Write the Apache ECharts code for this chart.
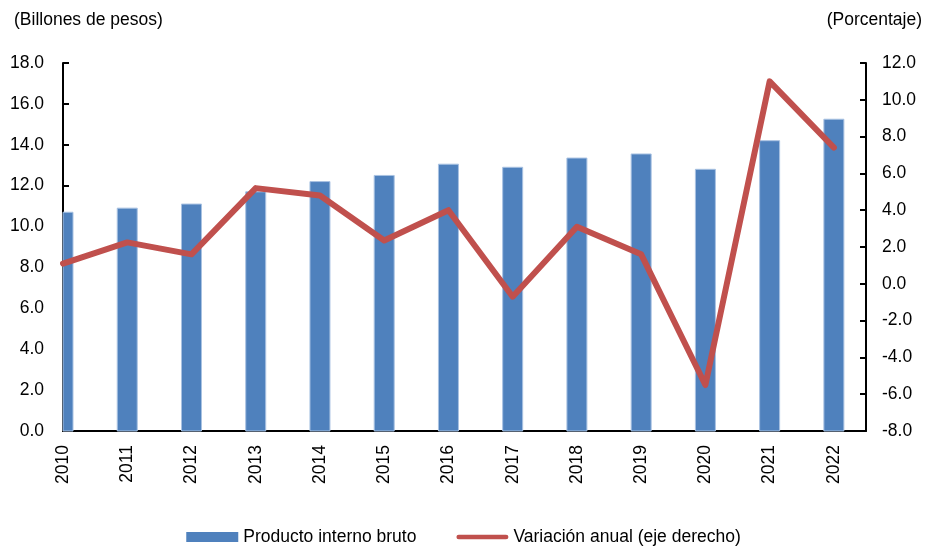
<!DOCTYPE html>
<html>
<head>
<meta charset="utf-8">
<script src="https://cdn.jsdelivr.net/npm/echarts@6/dist/echarts.min.js"></script>
<style>
  html, body { margin: 0; padding: 0; background: #fff; }
  #main { width: 927px; height: 549px; }
</style>
</head>
<body>
<div id="main"></div>
<script>
// datos
var years = ['2010', '2011', '2012', '2013', '2014', '2015', '2016', '2017', '2018', '2019', '2020', '2021', '2022'];
var pib = [10.7, 10.9, 11.1, 11.7, 12.2, 12.5, 13.05, 12.9, 13.35, 13.55, 12.8, 14.2, 15.25];
var variacion = [1.1, 2.25, 1.6, 5.2, 4.8, 2.35, 4.0, -0.7, 3.1, 1.6, -5.5, 11.0, 7.4];

var font = "'Liberation Sans', Arial, sans-serif";
var fs = 17.5;

var myChart = echarts.init(document.getElementById('main'));

// pares [año, valor] para el eje x numerico
var pibData = years.map(function (y, i) { return [Number(y), pib[i]]; });
var varData = years.map(function (y, i) { return [Number(y), variacion[i]]; });

// barras como serie custom para poder recortar la de 2010 en el borde del grid
function renderBar(params, api) {
    var top = api.coord([api.value(0), api.value(1)]);
    var base = api.coord([api.value(0), 0]);
    var w = 20;
    var cs = params.coordSys;
    var shape = echarts.graphic.clipRectByRect(
        { x: top[0] - w / 2, y: top[1], width: w, height: base[1] - top[1] },
        { x: cs.x, y: cs.y, width: cs.width, height: cs.height }
    );
    return shape && {
        type: 'rect',
        shape: shape,
        style: { fill: '#4F81BD', stroke: '#A9C2E2', lineWidth: 1 }
    };
}

option = {
    backgroundColor: '#fff',
    textStyle: { fontFamily: font, color: '#000' },
    title: [
        { text: '(Billones de pesos)', left: 9, top: 6, textStyle: { fontFamily: font, fontSize: fs, fontWeight: 'normal', color: '#000' } },
        { text: '(Porcentaje)', right: 0, top: 6, textStyle: { fontFamily: font, fontSize: fs, fontWeight: 'normal', color: '#000' } }
    ],
    grid: { left: 63, right: 61, top: 63, bottom: 118 },
    legend: {
        top: 528,
        left: 'center',
        itemWidth: 52,
        itemHeight: 10,
        itemGap: 40,
        padding: 0,
        textStyle: { fontFamily: font, fontSize: fs, color: '#000' },
        data: [
            { name: 'Producto interno bruto', icon: 'rect', itemStyle: { color: '#4F81BD' } },
            {
                name: 'Variación anual (eje derecho)',
                icon: 'path://M2.5,0 L52.5,0 A2.5,2.5 0 0 1 52.5,5 L2.5,5 A2.5,2.5 0 0 1 2.5,0 Z',
                itemStyle: { color: '#C0504D', borderWidth: 0 }
            }
        ]
    },
    xAxis: {
        type: 'value',
        min: 2010,
        max: 2022.5,
        interval: 1,
        splitLine: { show: false },
        axisTick: { show: false },
        axisLine: { lineStyle: { color: '#000', width: 2 } },
        axisLabel: {
            rotate: 90,
            margin: 14,
            fontFamily: font,
            fontSize: fs,
            color: '#000',
            showMaxLabel: false,
            formatter: function (v) { return Number.isInteger(v) ? String(v) : ''; }
        }
    },
    yAxis: [
        {
            type: 'value',
            min: 0,
            max: 18,
            interval: 2,
            splitLine: { show: false },
            axisLine: { show: true, lineStyle: { color: '#000', width: 2 } },
            axisTick: { show: true, inside: true, length: 6, lineStyle: { color: '#000', width: 2 } },
            axisLabel: { margin: 19, fontFamily: font, fontSize: fs, color: '#000', formatter: function (v) { return v.toFixed(1); } }
        },
        {
            type: 'value',
            min: -8,
            max: 12,
            interval: 2,
            position: 'right',
            splitLine: { show: false },
            axisLine: { show: true, lineStyle: { color: '#000', width: 2 } },
            axisTick: { show: true, inside: true, length: 6, lineStyle: { color: '#000', width: 2 } },
            axisLabel: { margin: 16, fontFamily: font, fontSize: fs, color: '#000', formatter: function (v) { return v.toFixed(1); } }
        }
    ],
    series: [
        {
            name: 'Producto interno bruto',
            type: 'custom',
            yAxisIndex: 0,
            renderItem: renderBar,
            itemStyle: { color: '#4F81BD' },
            encode: { x: 0, y: 1 },
            data: pibData
        },
        {
            name: 'Variación anual (eje derecho)',
            type: 'line',
            yAxisIndex: 1,
            symbol: 'none',
            clip: true,
            lineStyle: { color: '#C0504D', width: 6, cap: 'round', join: 'round' },
            itemStyle: { color: '#C0504D' },
            z: 3,
            data: varData
        }
    ]
};
myChart.setOption(option);
</script>
</body>
</html>
